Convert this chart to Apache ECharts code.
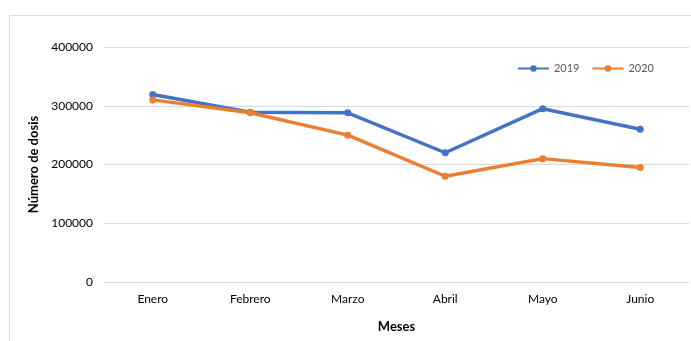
<!DOCTYPE html>
<html>
<head>
<meta charset="utf-8">
<script src="https://cdn.jsdelivr.net/npm/echarts@6/dist/echarts.min.js"></script>
<style>
  html, body { margin: 0; padding: 0; background: #fff; }
  #frame { position: absolute; left: 9px; top: 15px; width: 700px; height: 340px; border: 1px solid #d9d9d9; }
  #chart { position: absolute; left: 0; top: 0; width: 691px; height: 341px; }
</style>
</head>
<body>
<div id="frame"></div>
<div id="chart"></div>
<script>
const meses = ["Enero", "Febrero", "Marzo", "Abril", "Mayo", "Junio"];
const dosis2019 = [319000, 289000, 288000, 220000, 295000, 260000];
const dosis2020 = [310000, 288000, 250000, 180000, 210000, 195000];
const yTicks = [0, 100000, 200000, 300000, 400000];

const font = "Lato, 'Liberation Sans', sans-serif";
const myChart = echarts.init(document.getElementById("chart"));

myChart.setOption({
  animation: false,
  textStyle: { fontFamily: font },
  grid: { left: 104, right: 2, top: 47, bottom: 59 },
  legend: {
    top: 58,
    right: 32,
    itemWidth: 31,
    itemHeight: 8,
    itemGap: 12,
    textStyle: { color: "#595959", fontSize: 11, fontFamily: font },
    data: ["2019", "2020"],
  },
  xAxis: {
    type: "category",
    data: meses,
    name: "Meses",
    nameLocation: "middle",
    nameGap: 38,
    nameTextStyle: { fontWeight: "bold", fontSize: 13, color: "#000", fontFamily: font },
    axisLine: { lineStyle: { color: "#d9d9d9" } },
    axisTick: { show: false },
    axisLabel: { color: "#000", fontSize: 12, margin: 11 },
  },
  yAxis: {
    type: "value",
    min: yTicks[0],
    max: yTicks[yTicks.length - 1],
    interval: 100000,
    name: "Número de dosis",
    nameLocation: "middle",
    nameGap: 61,
    nameTextStyle: { fontWeight: "bold", fontSize: 13, color: "#000", fontFamily: font },
    axisLine: { show: false },
    axisTick: { show: false },
    axisLabel: { color: "#000", fontSize: 12, margin: 11, formatter: (v) => String(v) },
    splitLine: { lineStyle: { color: "#d9d9d9" } },
  },
  series: [
    {
      name: "2019",
      type: "line",
      data: dosis2019,
      symbol: "circle",
      symbolSize: 7,
      itemStyle: { color: "#4472c4" },
      lineStyle: { width: 3.5, color: "#4472c4" },
    },
    {
      name: "2020",
      type: "line",
      data: dosis2020,
      symbol: "circle",
      symbolSize: 7,
      itemStyle: { color: "#ed7d31" },
      lineStyle: { width: 3.5, color: "#ed7d31" },
    },
  ],
});
</script>
</body>
</html>
